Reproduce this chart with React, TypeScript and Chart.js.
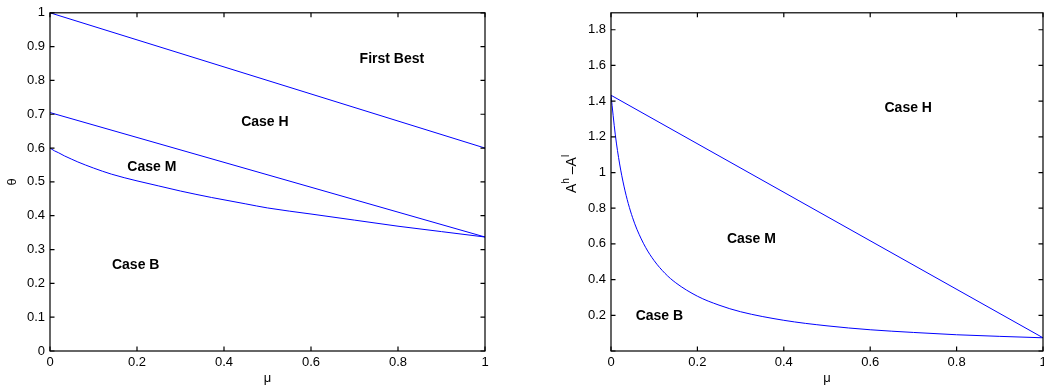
import React, { useEffect, useRef } from "react";
import { Chart, registerables } from "chart.js";
Chart.register(...registerables);

// Left panel data (theta vs mu)
const muFirstBest = [0, 1];
const thetaFirstBest = [1, 0.6];
const muCaseH = [0, 1];
const thetaCaseH = [0.705, 0.337];
const muCaseM = [0, 0.01, 0.02, 0.033, 0.05, 0.064, 0.1, 0.141, 0.2, 0.25, 0.3, 0.371, 0.45, 0.5, 0.6, 0.7, 0.8, 0.9, 1];
const thetaCaseM = [0.6, 0.592, 0.586, 0.577, 0.567, 0.559, 0.541, 0.523, 0.503, 0.488, 0.473, 0.454, 0.435, 0.423, 0.405, 0.387, 0.369, 0.353, 0.337];

// Right panel data (A^h - A^l vs mu)
const muGapH = [0, 1];
const gapH = [1.433, 0.074];
const muGapB = [0, 0.01, 0.02, 0.03, 0.04, 0.05, 0.06, 0.08, 0.1, 0.125, 0.15, 0.2, 0.25, 0.3, 0.4, 0.5, 0.6, 0.7, 0.8, 0.9, 1];
const gapB = [1.433, 1.211, 1.048, 0.924, 0.826, 0.747, 0.682, 0.581, 0.506, 0.435, 0.382, 0.307, 0.257, 0.22, 0.172, 0.141, 0.119, 0.104, 0.091, 0.082, 0.074];

// Region labels
const leftLabels = ["First Best", "Case H", "Case M", "Case B"];
const leftLabelMu = [0.786, 0.494, 0.234, 0.197];
const leftLabelTheta = [0.864, 0.677, 0.545, 0.253];
const rightLabels = ["Case H", "Case M", "Case B"];
const rightLabelMu = [0.688, 0.325, 0.112];
const rightLabelGap = [1.359, 0.626, 0.193];

const FONT = '"Liberation Sans", Arial, Helvetica, sans-serif';
const BLUE = "#0000ff";

const pts = (xs: number[], ys: number[]) => xs.map((x, i) => ({ x, y: ys[i] }));

function makeFramePlugin(opts: {
  labels: string[];
  lx: number[];
  ly: number[];
  yTitle: "theta" | "gap";
}) {
  return {
    id: "frame",
    afterDatasetsDraw(chart: any) {
      const { ctx, chartArea: a, scales } = chart;
      const xs = scales.x;
      const ys = scales.y;
      ctx.save();
      ctx.strokeStyle = "#000";
      ctx.lineWidth = 1.2;
      ctx.strokeRect(a.left, a.top, a.right - a.left, a.bottom - a.top);
      const L = 4.5;
      ctx.beginPath();
      xs.ticks.forEach((t: any) => {
        const px = xs.getPixelForValue(t.value);
        ctx.moveTo(px, a.bottom);
        ctx.lineTo(px, a.bottom - L);
        ctx.moveTo(px, a.top);
        ctx.lineTo(px, a.top + L);
      });
      ys.ticks.forEach((t: any) => {
        const py = ys.getPixelForValue(t.value);
        ctx.moveTo(a.left, py);
        ctx.lineTo(a.left + L, py);
        ctx.moveTo(a.right, py);
        ctx.lineTo(a.right - L, py);
      });
      ctx.stroke();

      // region labels
      ctx.fillStyle = "#000";
      ctx.font = `bold 14px ${FONT}`;
      ctx.textAlign = "center";
      ctx.textBaseline = "middle";
      opts.labels.forEach((s, i) => {
        ctx.fillText(s, xs.getPixelForValue(opts.lx[i]), ys.getPixelForValue(opts.ly[i]));
      });

      // x title
      ctx.font = `13px ${FONT}`;
      ctx.fillText("μ", (a.left + a.right) / 2, 378);

      // y title
      ctx.translate(12, (a.top + a.bottom) / 2);
      ctx.rotate(-Math.PI / 2);
      if (opts.yTitle === "theta") {
        ctx.font = `13px ${FONT}`;
        ctx.fillText("θ", 0, 0);
      } else {
        const parts = [
          { t: "A", sup: false },
          { t: "h", sup: true },
          { t: " \u2013A", sup: false },
          { t: "l", sup: true },
        ];
        const fontFor = (sup: boolean) => (sup ? `10px ${FONT}` : `14px ${FONT}`);
        let total = 0;
        parts.forEach((p) => {
          ctx.font = fontFor(p.sup);
          total += ctx.measureText(p.t).width;
        });
        let x = -total / 2 + 8;
        ctx.textAlign = "left";
        parts.forEach((p) => {
          ctx.font = fontFor(p.sup);
          ctx.fillText(p.t, x, p.sup ? -6 : 0);
          x += ctx.measureText(p.t).width;
        });
      }
      ctx.restore();
    },
  };
}

function baseScales(yMax: number, yStep: number, hideZero: boolean, yWidth: number) {
  const tickFont = { family: FONT, size: 13 };
  return {
    x: {
      type: "linear",
      min: 0,
      max: 1,
      grid: { display: false, drawTicks: false },
      border: { display: false },
      ticks: {
        stepSize: 0.2,
        padding: 4,
        color: "#000",
        font: tickFont,
        maxRotation: 0,
        autoSkip: false,
        includeBounds: false,
        callback: (v: number) => String(Math.round(v * 10) / 10),
      },
      afterFit: (s: any) => {
        s.height = 38;
      },
    },
    y: {
      type: "linear",
      min: 0,
      max: yMax,
      grid: { display: false, drawTicks: false },
      border: { display: false },
      ticks: {
        stepSize: yStep,
        padding: 5,
        color: "#000",
        font: tickFont,
        autoSkip: false,
        includeBounds: false,
        callback: (v: number) => {
          const r = Math.round(v * 10) / 10;
          if (hideZero && r === 0) return "";
          return String(r);
        },
      },
      afterFit: (s: any) => {
        s.width = yWidth;
      },
    },
  };
}

function lineDs(data: any[], smooth: boolean) {
  return {
    data,
    borderColor: BLUE,
    backgroundColor: BLUE,
    borderWidth: 1,
    pointRadius: 0,
    fill: false,
    tension: 0,
    cubicInterpolationMode: smooth ? "monotone" : "default",
  };
}

export default function App() {
  const leftRef = useRef<HTMLCanvasElement>(null);
  const rightRef = useRef<HTMLCanvasElement>(null);

  useEffect(() => {
    document.body.style.margin = "0";
    const left = new Chart(leftRef.current!, {
      type: "line",
      data: {
        datasets: [
          lineDs(pts(muFirstBest, thetaFirstBest), false),
          lineDs(pts(muCaseH, thetaCaseH), false),
          lineDs(pts(muCaseM, thetaCaseM), true),
        ] as any,
      },
      options: {
        animation: false,
        responsive: false,
        devicePixelRatio: 1,
        layout: { padding: { top: 8, right: 15, left: 0, bottom: 0 } },
        plugins: { legend: { display: false }, tooltip: { enabled: false } },
        scales: baseScales(1, 0.1, false, 50) as any,
      },
      plugins: [makeFramePlugin({ labels: leftLabels, lx: leftLabelMu, ly: leftLabelTheta, yTitle: "theta" })],
    });
    const right = new Chart(rightRef.current!, {
      type: "line",
      data: {
        datasets: [lineDs(pts(muGapH, gapH), false), lineDs(pts(muGapB, gapB), true)] as any,
      },
      options: {
        animation: false,
        responsive: false,
        devicePixelRatio: 1,
        layout: { padding: { top: 8, right: 17, left: 0, bottom: 0 } },
        plugins: { legend: { display: false }, tooltip: { enabled: false } },
        scales: baseScales(1.895, 0.2, true, 51) as any,
      },
      plugins: [makeFramePlugin({ labels: rightLabels, lx: rightLabelMu, ly: rightLabelGap, yTitle: "gap" })],
    });
    return () => {
      left.destroy();
      right.destroy();
    };
  }, []);

  return (
    <div style={{ position: "relative", width: 1044, height: 389, overflow: "hidden", background: "#fff" }}>
      <canvas ref={leftRef} width={500} height={389} style={{ position: "absolute", left: 0, top: 0, width: 500, height: 389 }} />
      <canvas ref={rightRef} width={500} height={389} style={{ position: "absolute", left: 560, top: 0, width: 500, height: 389 }} />
    </div>
  );
}
